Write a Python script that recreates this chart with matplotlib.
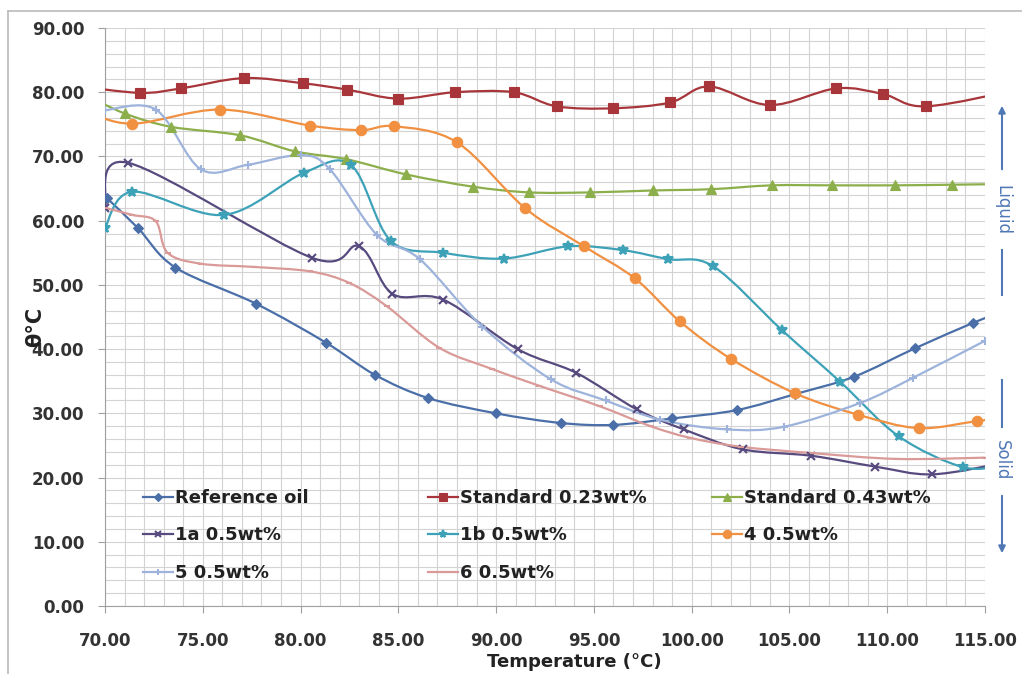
import matplotlib
matplotlib.use('Agg')
import matplotlib.pyplot as plt
from matplotlib.path import Path
from matplotlib.patches import PathPatch, FancyArrowPatch
from matplotlib.lines import Line2D
import numpy as np

plt.rcParams['font.family'] = ['DejaVu Sans']

# ---------------- data ----------------
x_ticks = [70, 75, 80, 85, 90, 95, 100, 105, 110, 115]
y_ticks = [0, 10, 20, 30, 40, 50, 60, 70, 80, 90]

ref_x = [70.1, 71.7, 73.6, 77.7, 81.3, 83.8, 86.5, 90.0, 93.3, 96.0, 99.0, 102.3, 105.3, 108.3, 111.4, 114.4, 116.0]
ref_y = [63.5, 58.8, 52.7, 47.1, 41.0, 36.0, 32.4, 30.0, 28.5, 28.2, 29.2, 30.5, 33.0, 35.7, 40.1, 44.1, 46.0]

s023_x = [68.5, 71.8, 73.9, 77.1, 80.1, 82.4, 85.0, 87.9, 90.9, 93.1, 96.0, 98.9, 100.9, 104.0, 107.4, 109.8, 112.0, 117.0]
s023_y = [81.0, 79.9, 80.6, 82.2, 81.4, 80.4, 79.0, 80.0, 80.0, 77.8, 77.5, 78.4, 80.9, 78.0, 80.6, 79.7, 77.8, 80.6]

s043_x = [69.0, 71.0, 73.4, 76.9, 79.7, 82.3, 85.4, 88.8, 91.7, 94.8, 98.0, 101.0, 104.1, 107.2, 110.4, 113.3, 116.0]
s043_y = [79.6, 76.7, 74.6, 73.3, 70.8, 69.6, 67.2, 65.3, 64.4, 64.4, 64.7, 64.9, 65.5, 65.5, 65.5, 65.6, 65.7]

a1_x = [70.0, 71.2, 80.6, 83.0, 84.7, 87.3, 91.1, 94.1, 97.2, 99.6, 102.6, 106.1, 109.4, 112.3, 116.0]
a1_y = [62.0, 69.0, 54.2, 56.0, 48.6, 47.7, 40.0, 36.3, 30.6, 27.5, 24.4, 23.4, 21.7, 20.5, 22.3]

b1_x = [70.0, 71.4, 76.1, 80.2, 82.6, 84.6, 87.3, 90.4, 93.7, 96.5, 98.8, 101.1, 104.6, 107.6, 110.6, 113.9, 116.0]
b1_y = [58.9, 64.5, 60.9, 67.5, 68.6, 56.9, 55.0, 54.1, 56.0, 55.4, 54.0, 52.9, 43.0, 34.9, 26.4, 21.6, 22.0]

c4_x = [69.0, 71.4, 75.9, 80.5, 83.1, 84.8, 88.0, 91.5, 94.5, 97.1, 99.4, 102.0, 105.3, 108.5, 111.6, 114.6, 116.0]
c4_y = [77.1, 75.1, 77.3, 74.8, 74.1, 74.7, 72.2, 61.9, 56.0, 51.0, 44.3, 38.5, 33.1, 29.8, 27.7, 28.8, 29.3]

c5_x = [70.0, 72.6, 74.9, 77.3, 80.0, 81.5, 83.9, 86.1, 89.3, 92.8, 95.6, 98.4, 101.8, 104.7, 108.6, 111.3, 115.0]
c5_y = [77.2, 77.3, 68.0, 68.7, 70.2, 68.0, 57.8, 54.0, 43.5, 35.3, 32.0, 29.0, 27.5, 27.9, 31.6, 35.5, 41.3]

c6_x = [70.0, 71.4, 72.6, 73.2, 74.9, 77.6, 80.5, 82.5, 84.4, 87.1, 89.8, 92.2, 95.3, 97.9, 99.9, 102.5, 106.2, 110.5, 115.0]
c6_y = [62.0, 60.9, 59.9, 55.0, 53.3, 52.8, 52.1, 50.3, 46.7, 40.2, 36.9, 34.3, 31.1, 28.0, 26.2, 24.8, 23.8, 22.9, 23.1]

series = [
    dict(label='Reference oil', x=ref_x, y=ref_y, color='#4A6FA8', marker='D', ms=5.5),
    dict(label='Standard 0.23wt%', x=s023_x, y=s023_y, color='#A8353A', marker='s', ms=7),
    dict(label='Standard 0.43wt%', x=s043_x, y=s043_y, color='#8CAF4C', marker='^', ms=7),
    dict(label='1a 0.5wt%', x=a1_x, y=a1_y, color='#574A7E', marker='x', ms=6),
    dict(label='1b 0.5wt%', x=b1_x, y=b1_y, color='#3DA2B8', marker='*', ms=7),
    dict(label='4 0.5wt%', x=c4_x, y=c4_y, color='#F09040', marker='o', ms=7.5),
    dict(label='5 0.5wt%', x=c5_x, y=c5_y, color='#9DB3DB', marker='+', ms=6),
    dict(label='6 0.5wt%', x=c6_x, y=c6_y, color='#D99A98', marker='_', ms=5),
]


def smooth_path(xs, ys):
    pts = np.column_stack([xs, ys]).astype(float)
    n = len(pts)
    verts = [pts[0]]
    codes = [Path.MOVETO]
    for i in range(n - 1):
        p0 = pts[i - 1] if i > 0 else pts[i]
        p1 = pts[i]
        p2 = pts[i + 1]
        p3 = pts[i + 2] if i + 2 < n else pts[i + 1]
        c1 = p1 + (p2 - p0) / 6.0
        c2 = p2 - (p3 - p1) / 6.0
        verts += [c1, c2, p2]
        codes += [Path.CURVE4] * 3
    return Path(verts, codes)


W, H = 1022, 674
fig = plt.figure(figsize=(W / 100, H / 100), dpi=100)
ax = fig.add_axes([105 / W, 1 - 606 / H, 880 / W, 578 / H])

ax.set_xlim(70, 115)
ax.set_ylim(0, 90)

ax.set_xticks(x_ticks)
ax.set_xticklabels(['%.2f' % v for v in x_ticks])
ax.set_yticks(y_ticks)
ax.set_yticklabels(['%.2f' % v for v in y_ticks])
ax.set_xticks(np.arange(70, 116, 1), minor=True)
ax.set_yticks(np.arange(0, 91, 2), minor=True)
ax.grid(True, which='both', color='#D3D3D3', linewidth=0.8)
ax.set_axisbelow(True)
ax.tick_params(which='major', length=5, color='#A0A0A0', labelsize=12, pad=10)
ax.tick_params(axis='x', which='major', pad=14)
ax.tick_params(which='minor', length=0)
for lab in ax.get_xticklabels() + ax.get_yticklabels():
    lab.set_fontweight('bold')
    lab.set_color('#333333')
for sp in ['top', 'right']:
    ax.spines[sp].set_visible(False)
for sp in ['left', 'bottom']:
    ax.spines[sp].set_color('#A0A0A0')

handles = []
for s in series:
    patch = PathPatch(smooth_path(s['x'], s['y']), facecolor='none',
                      edgecolor=s['color'], linewidth=1.6, zorder=3)
    ax.add_patch(patch)
    mew = 1.5 if s['marker'] in ('x', '+', '_', '*') else 0.8
    ax.plot(s['x'], s['y'], linestyle='none', marker=s['marker'], ms=s['ms'],
            color=s['color'], mec=s['color'], mew=mew, zorder=4)
    handles.append(Line2D([0], [0], color=s['color'], lw=1.6, marker=s['marker'],
                          ms=s['ms'] * 0.8, mew=mew))

labels = [s['label'] for s in series]
cols = [[0, 3, 6], [1, 4, 7], [2, 5]]
col_x = [143, 428, 712]
for cx, idx in zip(col_x, cols):
    leg = fig.legend([handles[i] for i in idx], [labels[i] for i in idx],
                     loc='upper left', bbox_to_anchor=(cx / W, 1 - 489 / H),
                     frameon=False, borderpad=0, borderaxespad=0, handlelength=1.65,
                     handletextpad=0.1, labelspacing=1.08,
                     prop=dict(size=13, weight='bold'))
    for t in leg.get_texts():
        t.set_color('#222222')

fig.text(35 / W, 1 - 327 / H, 'θ°C', rotation=90, ha='center', va='center',
         fontsize=15, fontweight='bold', color='#222222')
fig.text(574 / W, 1 - 662 / H, 'Temperature (°C)', ha='center', va='center',
         fontsize=13, fontweight='bold', color='#222222')

# right-side phase annotations
acol = '#4F78B5'
fig.text(1002 / W, 1 - 210 / H, 'Liquid', rotation=-90, ha='center', va='center',
         fontsize=12, color=acol)
fig.text(1002 / W, 1 - 460 / H, 'Solid', rotation=-90, ha='center', va='center',
         fontsize=12, color=acol)
fig.add_artist(FancyArrowPatch(
    (1002 / W, 1 - 172 / H), (1002 / W, 1 - 103 / H), transform=fig.transFigure,
    arrowstyle='-|>', mutation_scale=10, color=acol, lw=1.5))
fig.add_artist(Line2D([1002 / W, 1002 / W], [1 - 250 / H, 1 - 295 / H],
                      transform=fig.transFigure, color=acol, lw=1.5))
fig.add_artist(Line2D([1002 / W, 1002 / W], [1 - 380 / H, 1 - 427 / H],
                      transform=fig.transFigure, color=acol, lw=1.5))
fig.add_artist(FancyArrowPatch(
    (1002 / W, 1 - 493 / H), (1002 / W, 1 - 556 / H), transform=fig.transFigure,
    arrowstyle='-|>', mutation_scale=10, color=acol, lw=1.5))

# outer chart frame
fig.add_artist(Line2D([8 / W, 1.0], [1 - 11 / H, 1 - 11 / H], transform=fig.transFigure,
                      color='#BBBBBB', lw=1.2))
fig.add_artist(Line2D([8 / W, 8 / W], [0, 1 - 11 / H], transform=fig.transFigure,
                      color='#BBBBBB', lw=1.2))

fig.savefig('out.png', dpi=100)
